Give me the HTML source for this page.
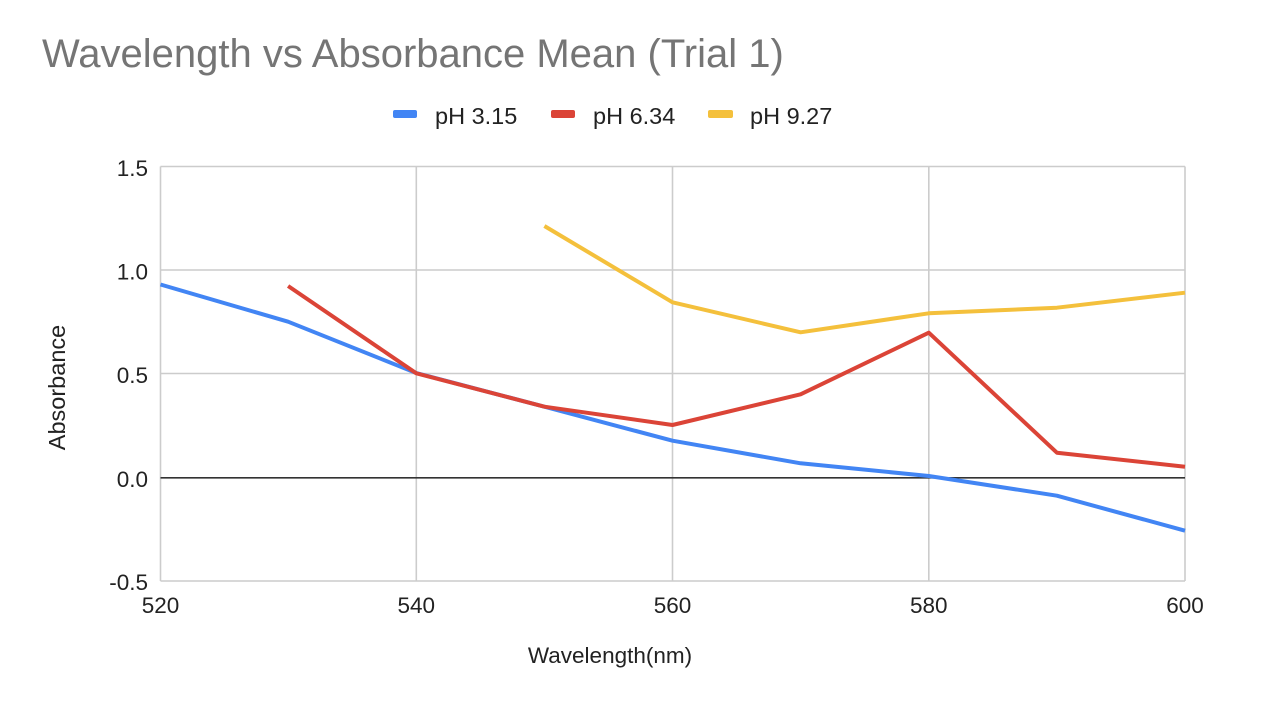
<!DOCTYPE html>
<html>
<head>
<meta charset="utf-8">
<style>
  html, body { margin: 0; padding: 0; background: #ffffff; }
  svg { display: block; }
  text { font-family: "Liberation Sans", Arial, sans-serif; }
</style>
</head>
<body>
<svg width="1272" height="724" viewBox="0 0 1272 724" xmlns="http://www.w3.org/2000/svg">
  <rect x="0" y="0" width="1272" height="724" fill="#ffffff"/>

  <!-- Title -->
  <text x="42" y="67" font-size="40" fill="#757575">Wavelength vs Absorbance Mean (Trial 1)</text>

  <!-- Legend -->
  <rect x="393" y="110" width="24" height="8" rx="2" fill="#4285F4"/>
  <text x="435" y="124" font-size="23.5" fill="#222">pH 3.15</text>
  <rect x="551" y="110" width="24" height="8" rx="2" fill="#DB4437"/>
  <text x="593" y="124" font-size="23.5" fill="#222">pH 6.34</text>
  <rect x="708" y="110" width="25" height="8" rx="2" fill="#F4C03C"/>
  <text x="750" y="124" font-size="23.5" fill="#222">pH 9.27</text>

  <!-- Gridlines -->
  <g stroke="#cccccc" stroke-width="1.6" fill="none">
    <line x1="160.5" y1="166.5" x2="1185" y2="166.5"/>
    <line x1="160.5" y1="270" x2="1185" y2="270"/>
    <line x1="160.5" y1="373.5" x2="1185" y2="373.5"/>
    <line x1="160.5" y1="581" x2="1185" y2="581"/>
    <line x1="160.5" y1="166.5" x2="160.5" y2="581"/>
    <line x1="416.3" y1="166.5" x2="416.3" y2="581"/>
    <line x1="672.5" y1="166.5" x2="672.5" y2="581"/>
    <line x1="928.8" y1="166.5" x2="928.8" y2="581"/>
    <line x1="1185" y1="166.5" x2="1185" y2="581"/>
  </g>
  <!-- Zero baseline -->
  <line x1="160.5" y1="477.8" x2="1185" y2="477.8" stroke="#333333" stroke-width="1.6"/>

  <!-- Y tick labels -->
  <g font-size="22.5" fill="#222" text-anchor="end">
    <text x="148" y="176">1.5</text>
    <text x="148" y="279.5">1.0</text>
    <text x="148" y="383">0.5</text>
    <text x="148" y="487">0.0</text>
    <text x="148" y="590">-0.5</text>
  </g>

  <!-- X tick labels -->
  <g font-size="22.5" fill="#222" text-anchor="middle">
    <text x="160.5" y="613">520</text>
    <text x="416.3" y="613">540</text>
    <text x="672.5" y="613">560</text>
    <text x="928.8" y="613">580</text>
    <text x="1185" y="613">600</text>
  </g>

  <!-- Axis titles -->
  <text x="610" y="663" font-size="22.5" fill="#222" text-anchor="middle">Wavelength(nm)</text>
  <text transform="translate(65,387.5) rotate(-90)" font-size="23.5" fill="#222" text-anchor="middle">Absorbance</text>

  <!-- Series -->
  <g fill="none" stroke-width="4" stroke-linejoin="round" stroke-linecap="butt">
    <polyline stroke="#4285F4" points="160.5,284.5 288.1,321.7 416.3,373 544.4,406.7 672.5,440.7 800.6,463.3 928.8,476 1056.9,495.7 1185,530.7"/>
    <polyline stroke="#DB4437" points="288.1,286 416.3,373.3 544.4,406.7 672.5,425 800.6,394.3 928.8,332.7 1056.9,452.7 1185,466.7"/>
    <polyline stroke="#F4C03C" points="544.4,226 672.5,302.3 800.6,332.3 928.8,313.3 1056.9,307.7 1185,292.7"/>
  </g>
</svg>
</body>
</html>
